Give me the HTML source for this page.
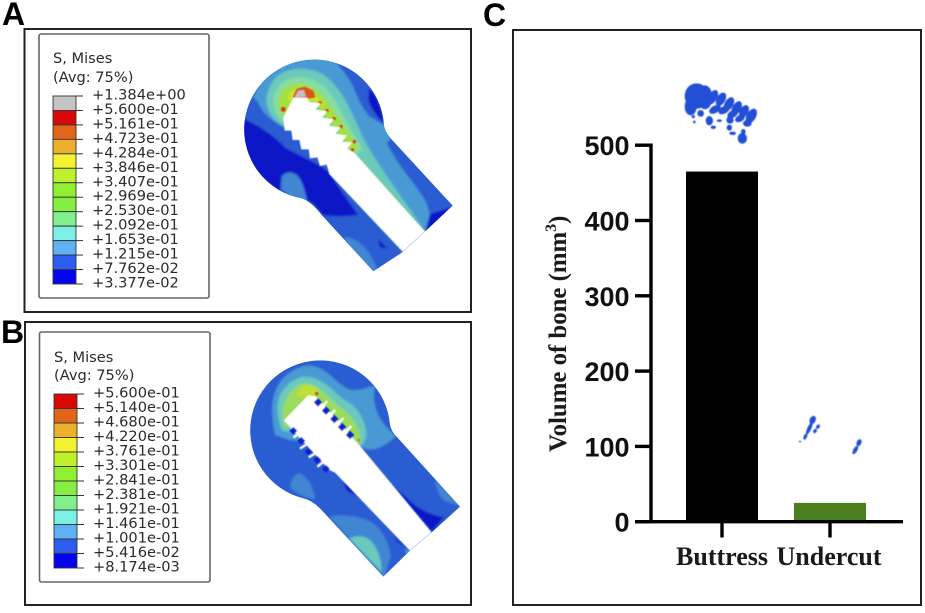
<!DOCTYPE html>
<html lang="en">
<head>
<meta charset="utf-8">
<title>Stress distribution and bone volume</title>
<style>
html,body{margin:0;padding:0;background:#fff;width:925px;height:613px;overflow:hidden}
svg{display:block}
.panel{fill:#fff;stroke:#222;stroke-width:2}
.legend-box{fill:#fff;stroke:#666;stroke-width:1.6}
.letter{font-family:"Liberation Sans",sans-serif;font-weight:700;font-size:32px;fill:#000}
.lg{font-family:"DejaVu Sans",sans-serif;font-size:14.6px;fill:#2a2a2a}
.tick{font-family:"Liberation Sans",sans-serif;font-weight:700;font-size:27px;fill:#111}
.cat{font-family:"Liberation Serif",serif;font-weight:700;font-size:26px;fill:#1a1a1a;text-anchor:middle}
.ytitle{font-family:"Liberation Serif",serif;font-weight:700;font-size:24.8px;fill:#1a1a1a}
</style>
</head>
<body>
<svg id="fig" xmlns="http://www.w3.org/2000/svg" width="925" height="613" viewBox="0 0 925 613">
<defs>
<filter id="soft" x="-5%" y="-5%" width="110%" height="110%"><feGaussianBlur stdDeviation="3"/></filter>
<filter id="soft2" x="-10%" y="-10%" width="120%" height="120%"><feGaussianBlur stdDeviation="1.2"/></filter>
<clipPath id="clipA"><path d="M668,437 L585,515 L520,575 L430,634 L275,465 Q245,425 215,415 A210,210 0 1 1 462,195 Q465,215 482,235 Z"/></clipPath>
<clipPath id="clipB"><path d="M660,500 L575,577 L510,632 L430,710 L240,505 Q215,480 190,475 A210,210 0 1 1 450,255 Q455,275 468,288 Z"/></clipPath>
</defs>

<text class="letter" x="2" y="25">A</text>
<text class="letter" x="1" y="343">B</text>
<text class="letter" x="483" y="26">C</text>

<rect class="panel" x="24.5" y="29" width="446.5" height="283"/>
<rect class="panel" x="25" y="322" width="446" height="283"/>
<rect class="panel" x="513" y="30" width="408" height="575"/>

<rect class="legend-box" x="39" y="34" rx="2" width="170" height="264"/>
<rect class="legend-box" x="39.5" y="332" rx="2" width="170.5" height="250"/>
<g id="legendA"></g>
<g id="legendB"></g>

<!-- FEA contour model A -->
<g transform="translate(230,60) scale(0.33333)">
  <g clip-path="url(#clipA)">
    <g filter="url(#soft)">
      <rect x="0" y="-20" width="720" height="680" fill="#2c5cd2"/>
      <path fill="#0a14c6" d="M30,170 C70,190 120,215 165,262 C210,290 270,310 300,340 C330,390 360,430 385,465 C350,470 310,470 280,465 C260,445 250,430 240,425 C210,410 170,405 150,400 L30,300 Z"/>
      <path fill="#3f86d2" d="M155,350 C165,335 190,332 205,350 C220,370 225,395 232,425 C205,418 175,408 152,388 Z"/>
      <path fill="#4a9ad4" d="M155,198 C125,180 100,165 85,128 L70,112 C90,60 150,10 210,-10 L310,0 C340,30 360,60 370,80 C385,120 400,150 420,170 L462,195 L482,235 L470,250 C490,285 505,310 520,330 C550,370 580,405 590,430 L600,460 L585,515 L370,280 Z"/>
      <path fill="#2c5cd2" d="M310,-5 C350,10 390,30 400,40 L462,190 L420,170 C400,150 385,120 370,80 C360,60 340,30 310,-5 Z"/>
      <path fill="#0a14c6" d="M418,85 C440,105 455,140 462,190 C445,175 425,150 415,120 Z"/>
      <path fill="#2c5cd2" d="M482,235 L600,360 C595,375 600,385 610,395 L640,412 L680,437 L600,465 C595,445 590,430 585,420 C560,385 540,350 530,330 C510,300 490,280 476,258 Z"/>
      <path fill="#0a14c6" d="M600,462 L680,437 L585,520 Z"/>
      <path fill="#3f86d2" d="M345,530 C375,535 400,555 415,575 C430,600 440,620 445,640 L420,640 L345,545 Z"/>
      <path fill="#0a14c6" d="M445,538 L472,565 L450,562 Z"/>
      <path fill="#6ccabc" d="M155,195 C100,160 95,100 140,50 C185,15 260,20 300,60 C350,110 370,170 400,235 C440,310 520,420 590,518 L370,280 Z"/>
      <path fill="#86dda0" d="M155,182 C120,150 120,90 165,62 C215,38 265,55 300,100 C330,140 350,190 398,268 L375,285 Z"/>
      <path fill="#a4e040" d="M158,165 C135,130 145,92 180,76 C220,62 260,82 290,122 C320,162 345,205 388,262 L370,278 Z"/>
      <path fill="#cde22e" d="M175,120 C172,100 192,85 215,84 C245,85 262,112 285,140 L240,125 Z"/>
    </g>
    <g filter="url(#soft2)">
      <path d="M240,128 L352,266" stroke="#6ccabc" stroke-width="20" fill="none"/>
      <path fill="#d8551a" d="M188,112 L200,86 L225,80 L250,92 L256,112 L236,116 Z"/>
      <path fill="#c4c0c0" d="M194,112 L204,92 L222,90 L228,110 Z"/>
      <circle cx="160" cy="148" r="7" fill="#d83018"/>
      <circle cx="270" cy="128" r="5" fill="#d8401a"/>
      <circle cx="291" cy="152" r="5" fill="#c83a20"/>
      <circle cx="312" cy="176" r="5" fill="#c83a20"/>
      <circle cx="333" cy="200" r="5" fill="#c83a20"/>
      <circle cx="373" cy="245" r="5" fill="#c83a20"/>
      <circle cx="367" cy="270" r="5" fill="#c83a20"/>
      <path d="M300,340 L520,575" stroke="#6ccabc" stroke-width="6" fill="none"/>
      <path d="M375,280 L585,515" stroke="#8fdc80" stroke-width="4" fill="none"/>
      <path fill="#fff" d="M190,113 L232,113 L238,126 L272,130 L256,149 L292,154 L276,173 L312,178 L296,197 L332,202 L316,221 L352,226 L336,245 L367,247 L352,266 L372,278 L585,515 L520,575 L298,342 L290,314 L270,318 L262,292 L240,295 L236,268 L214,268 L208,240 L188,240 L184,212 L164,212 L160,172 Z"/>
    </g>
  </g>
</g>

<!-- FEA contour model B -->
<g transform="translate(240,340) scale(0.33333)">
  <g clip-path="url(#clipB)">
    <g filter="url(#soft)">
      <rect x="0" y="30" width="700" height="700" fill="#2c5cd2"/>
      <path fill="#4a9ad4" d="M105,285 C85,190 95,110 190,78 C260,68 280,130 330,150 C370,152 385,140 405,138 C395,180 405,240 468,288 C430,322 400,338 365,322 L150,300 Z"/>
      <path fill="#6ccabc" d="M125,272 C100,200 110,140 180,112 C250,100 280,165 330,190 C372,220 395,290 365,316 Z"/>
      <path fill="#9cdc5c" d="M138,268 C118,220 125,170 180,132 C232,122 262,172 302,202 C342,232 372,285 360,312 L205,170 Z"/>
      <path fill="#c0e030" d="M172,172 C172,145 195,130 218,138 C235,150 238,160 225,170 Z"/>
      <path fill="#3f86d2" d="M150,440 C155,415 165,400 178,400 C205,410 220,440 225,478 C205,475 170,465 150,440 Z"/>
      <path fill="#3f86d2" d="M268,530 C300,522 360,525 400,550 C430,575 448,610 452,650 L432,715 Z"/>
      <path fill="#6ccabc" d="M328,596 C350,585 375,585 395,605 C415,630 425,660 425,695 Z"/>
      <path fill="#0a14c6" d="M308,415 L362,472 L320,452 Z"/>
      <path fill="#0a14c6" d="M450,430 L575,575 L612,532 C570,525 550,510 530,500 Z"/>
      <path fill="#3f86d2" d="M585,420 L665,500 L612,482 C600,470 590,450 585,420 Z"/>
      <path fill="#0a14c6" d="M462,590 L498,622 L470,605 Z"/>
      <path fill="#4a9ad4" d="M495,628 L515,632 L500,645 Z"/>
    </g>
    <g filter="url(#soft2)">
      <path fill="#fff" d="M205,165 L228,170 L362,320 L575,577 L510,632 L285,398 L268,390 L132,242 L140,232 Z"/>
      <circle cx="230" cy="161" r="5" fill="#d8401a"/>
      <circle cx="357" cy="300" r="4" fill="#d8701a"/>
      <g fill="#1020d0">
        <rect x="225" y="178" width="18" height="18" transform="rotate(45 234 187)"/>
        <rect x="249" y="203" width="18" height="18" transform="rotate(45 258 212)"/>
        <rect x="274" y="228" width="18" height="18" transform="rotate(45 283 237)"/>
        <rect x="297" y="252" width="18" height="18" transform="rotate(45 306 261)"/>
        <rect x="321" y="276" width="18" height="18" transform="rotate(45 330 285)"/>
      </g>
      <g fill="#1020d0" transform="translate(-6,6)">
        <rect x="158" y="258" width="17" height="17" transform="rotate(45 166 266)"/>
        <rect x="182" y="288" width="17" height="17" transform="rotate(45 190 296)"/>
        <rect x="204" y="320" width="17" height="17" transform="rotate(45 212 328)"/>
        <rect x="230" y="345" width="17" height="17" transform="rotate(45 238 353)"/>
        <rect x="256" y="372" width="17" height="17" transform="rotate(45 264 380)"/>
      </g>
      <g stroke="#fff" stroke-width="7" fill="none">
        <path d="M176,282 L160,292"/><path d="M200,313 L180,326"/><path d="M226,340 L206,352"/><path d="M250,366 L232,380"/>
        <path d="M246,200 L262,184"/><path d="M270,225 L286,210"/><path d="M295,250 L310,234"/><path d="M318,274 L334,258"/>
      </g>
    </g>
  </g>
</g>

<!-- Micro-CT renderings above bars -->
<g transform="translate(660,70) scale(0.33333)" fill="#2450d6" filter="url(#soft2)">
  <ellipse cx="110" cy="78" rx="36" ry="38"/>
  <ellipse cx="92" cy="110" rx="18" ry="26"/>
  <ellipse cx="135" cy="82" rx="22" ry="36"/>
  <ellipse cx="158" cy="82" rx="13" ry="24" transform="rotate(30 158 82)"/>
  <ellipse cx="183" cy="88" rx="13" ry="22" transform="rotate(30 183 88)"/>
  <ellipse cx="207" cy="102" rx="13" ry="22" transform="rotate(30 207 102)"/>
  <ellipse cx="230" cy="114" rx="13" ry="22" transform="rotate(30 230 114)"/>
  <ellipse cx="252" cy="124" rx="13" ry="20" transform="rotate(30 252 124)"/>
  <ellipse cx="274" cy="138" rx="14" ry="24" transform="rotate(30 274 138)"/>
  <ellipse cx="165" cy="118" rx="19" ry="11" transform="rotate(-30 165 118)"/>
  <ellipse cx="192" cy="120" rx="18" ry="11" transform="rotate(-30 192 120)"/>
  <ellipse cx="218" cy="132" rx="17" ry="11" transform="rotate(-30 218 132)"/>
  <ellipse cx="240" cy="145" rx="16" ry="10" transform="rotate(-30 240 145)"/>
  <ellipse cx="262" cy="160" rx="13" ry="10"/>
  <ellipse cx="122" cy="130" rx="10" ry="10"/>
  <ellipse cx="148" cy="152" rx="11" ry="14"/>
  <ellipse cx="210" cy="150" rx="11" ry="11"/>
  <ellipse cx="178" cy="152" rx="8" ry="4"/>
  <ellipse cx="160" cy="172" rx="8" ry="5"/>
  <ellipse cx="208" cy="173" rx="8" ry="9"/>
  <ellipse cx="218" cy="190" rx="10" ry="5"/>
  <ellipse cx="247" cy="205" rx="14" ry="16"/>
  <ellipse cx="250" cy="185" rx="7" ry="8"/>
  <circle cx="103" cy="156" r="4"/>
  <circle cx="100" cy="140" r="5"/>
</g>
<g transform="translate(780,400) scale(0.33333)" fill="#2450d6" filter="url(#soft2)">
  <ellipse cx="98" cy="60" rx="9" ry="13" transform="rotate(25 98 60)"/>
  <ellipse cx="88" cy="85" rx="6" ry="20" transform="rotate(25 88 85)"/>
  <ellipse cx="76" cy="110" rx="5" ry="10" transform="rotate(25 76 110)"/>
  <ellipse cx="114" cy="80" rx="5" ry="7" transform="rotate(35 114 80)"/>
  <ellipse cx="105" cy="93" rx="5" ry="7" transform="rotate(35 105 93)"/>
  <circle cx="60" cy="125" r="3"/>
  <ellipse cx="237" cy="128" rx="7" ry="11" transform="rotate(25 237 128)"/>
  <ellipse cx="226" cy="150" rx="6" ry="14" transform="rotate(30 226 150)"/>
</g>

<g id="chart"></g>

<text class="ytitle" transform="translate(566,452) rotate(-90)">Volume of bone (mm<tspan dy="-10" font-size="16">3</tspan><tspan dy="10">)</tspan></text>

<script>
var categories = ["Buttress", "Undercut"];
var boneVolume = [465, 25];
var yTickLabels = [0, 100, 200, 300, 400, 500];
var barColors = ["#000000", "#4b7f1f"];

var legendLabelsA = ["+1.384e+00","+5.600e-01","+5.161e-01","+4.723e-01","+4.284e-01","+3.846e-01","+3.407e-01","+2.969e-01","+2.530e-01","+2.092e-01","+1.653e-01","+1.215e-01","+7.762e-02","+3.377e-02"];
var legendLabelsB = ["+5.600e-01","+5.140e-01","+4.680e-01","+4.220e-01","+3.761e-01","+3.301e-01","+2.841e-01","+2.381e-01","+1.921e-01","+1.461e-01","+1.001e-01","+5.416e-02","+8.174e-03"];
var contourColors = ["#d90808","#e2651a","#ecb02c","#f2f230","#bff02c","#90f030","#86ee40","#80f08e","#7cf0e4","#60b0f4","#2c5cf0","#0404ee"];

var NS = "http://www.w3.org/2000/svg";
function make(tag, attrs, parent) {
  var el = document.createElementNS(NS, tag);
  for (var k in attrs) { el.setAttribute(k, attrs[k]); }
  parent.appendChild(el);
  return el;
}
function yScale(v) { return 521.7 - v * 0.753; }
function xScale(i) { return 722 + 108 * i; }

var chart = document.getElementById("chart");

boneVolume.forEach(function (v, i) {
  var bar = make("rect", {x: xScale(i) - 36, y: yScale(v), width: 72, height: yScale(0) - yScale(v), fill: barColors[i]}, chart);
  
  
});

var yAxis = make("line", {x1: 651, x2: 651, y1: yScale(500) - 1.7, y2: yScale(0), stroke: "#000", "stroke-width": 3.4}, chart);


var xAxis = make("line", {x1: 635, x2: 903, y1: yScale(0), y2: yScale(0), stroke: "#000", "stroke-width": 3.4}, chart);



yTickLabels.forEach(function (t) {
  var mark = make("line", {x1: 635, x2: 651, y1: yScale(t), y2: yScale(t), stroke: "#000", "stroke-width": 3.4}, chart);
  
  
  var label = make("text", {x: 629.5, y: yScale(t) + 10, "text-anchor": "end", "class": "tick"}, chart);
  
  
  label.textContent = t;
});

categories.forEach(function (c, i) {
  var mark = make("line", {x1: xScale(i), x2: xScale(i), y1: yScale(0), y2: 537.5, stroke: "#000", "stroke-width": 3.4}, chart);
  
  
  var label = make("text", {x: i === 0 ? 722 : 829, y: 565, "class": "cat"}, chart);
  
  
  label.textContent = c;
});

function buildLegend(id, labels, colors, textX, barX, top, step, titleY1, titleY2, prefix) {
  var g = document.getElementById(id);
  var t1 = make("text", {x: barX, y: titleY1, "class": "lg"}, g);
  
  
  t1.textContent = "S, Mises";
  var t2 = make("text", {x: barX, y: titleY2, "class": "lg"}, g);
  
  
  t2.textContent = "(Avg: 75%)";
  colors.forEach(function (c, i) {
    var cell = make("rect", {x: barX, y: top + i * step, width: 23, height: step, fill: c, stroke: "#333", "stroke-width": 0.9}, g);
    
    
  });
  labels.forEach(function (s, i) {
    var y = top + i * step;
    var tick = make("line", {x1: barX + 23, x2: barX + 30, y1: y, y2: y, stroke: "#333", "stroke-width": 1}, g);
    
    
    var text = make("text", {x: textX, y: y + 3.5, "class": "lg"}, g);
    
    
    text.textContent = s;
  });
}
buildLegend("legendA", legendLabelsA, ["#c4c4c4"].concat(contourColors), 92, 53, 96, 14.46, 63, 82, "legend-a");
buildLegend("legendB", legendLabelsB, contourColors, 93, 54, 394, 14.5, 362, 380, "legend-b");
</script>
</svg>
</body>
</html>
